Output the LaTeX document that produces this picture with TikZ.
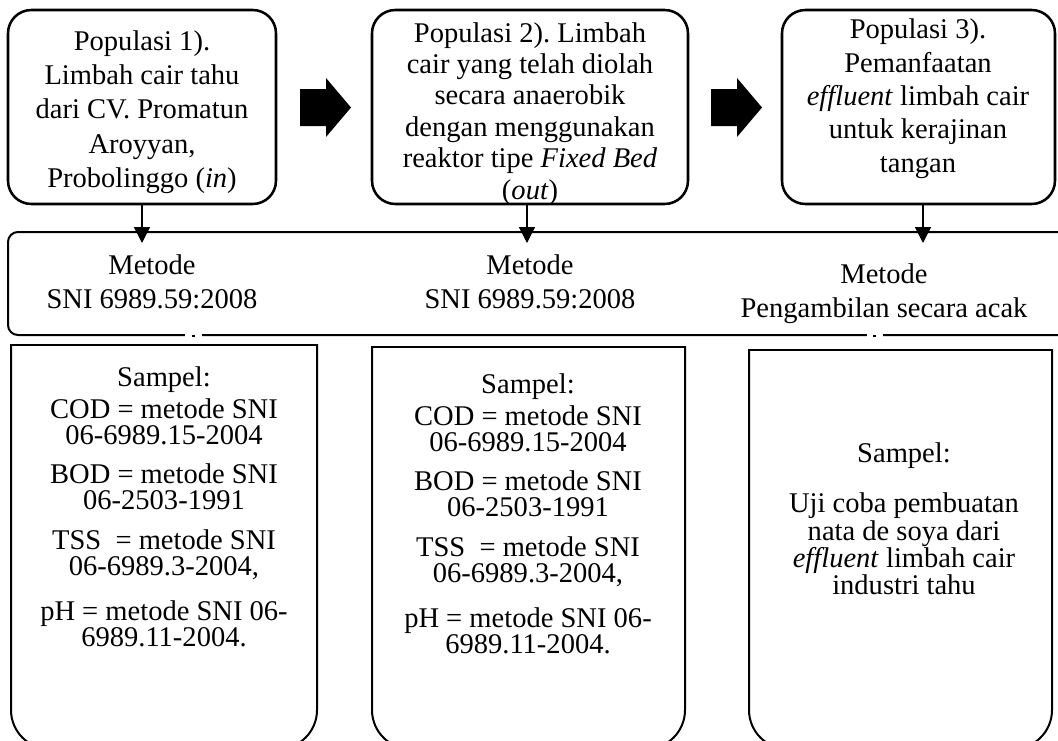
\documentclass[tikz,border=0pt]{standalone}
\usepackage{fontspec}
\setmainfont{Liberation Serif}
\usetikzlibrary{arrows.meta,calc}
\lineskiplimit=-50pt
\frenchspacing
\begin{document}
\begin{tikzpicture}[x=0.75pt,y=-0.75pt,
  every node/.style={inner sep=0pt,outer sep=0pt},
  topbox/.style={draw,line width=1.9pt,rounded corners=17.5pt},
  midbox/.style={draw,line width=1.5pt,rounded corners=7.5pt},
  sampbox/.style={draw,line width=1.5pt,line cap=rect},
  txt/.style={align=center,anchor=north},
  conn/.style={line width=1.2pt,-{Triangle[length=12pt,width=12pt]}},
  blockarrow/.style={fill=black}]
\useasboundingbox (0,0) rectangle (1058,740);
\fill[white] (0,0) rectangle (1058,740);
\clip (0,0) rectangle (1058,740);

% population boxes
\node[topbox,minimum width=201pt,minimum height=145.5pt] (b1) at (142,107) {};
\node[topbox,minimum width=237pt,minimum height=145.5pt] (b2) at (530,107) {};
\node[topbox,minimum width=204.75pt,minimum height=145.5pt] (b3) at (918.5,107) {};

\node[txt,font=\fontsize{21.4}{25.8}\selectfont] (t1) at (142,30.3)
  {Populasi 1).\\ Limbah cair tahu\\ dari CV. Promatun\\ Aroyyan,\\ Probolinggo (\textit{in})};
\node[txt,font=\fontsize{21.4}{23.55}\selectfont] (t2) at (530,22.3)
  {Populasi 2). Limbah\\ cair yang telah diolah\\ secara anaerobik\\ dengan menggunakan\\ reaktor tipe \textit{Fixed Bed}\\ (\textit{out})};
\node[txt,font=\fontsize{21.4}{25}\selectfont] (t3) at (918,19)
  {Populasi 3).\\ Pemanfaatan\\ \textit{effluent} limbah cair\\ untuk kerajinan\\ tangan};

% block arrows between the population boxes
\foreach \x in {300,711}
  \fill[blockarrow] (\x,89) -- ++(26,0) -- ++(0,-11) -- ++(25,29.5)
    -- ++(-25,29.5) -- ++(0,-11) -- ++(-26,0) -- cycle;

% method band
\node[midbox,anchor=north west,minimum width=804pt,minimum height=77.25pt] (mid) at (8,232) {};
\node[txt,font=\fontsize{21.4}{25.5}\selectfont] (m1) at (152,254.5) {Metode\\ SNI 6989.59:2008};
\node[txt,font=\fontsize{21.4}{25.5}\selectfont] (m2) at (530,254.5) {Metode\\ SNI 6989.59:2008};
\node[txt,font=\fontsize{21.4}{25.5}\selectfont] (m3) at (884,263.5) {Metode\\ Pengambilan secara acak};
% small breaks in the lower edge of the band
\draw[white,line width=2.5pt] (185,335) -- (202,335);
\draw[line width=1pt] (192,336) -- (195,336);
\draw[white,line width=2.5pt] (867,335) -- (883,335);
\draw[line width=1pt] (873,336) -- (876,336);

% connectors into the band
\coordinate (tipy) at (0,243);
\draw[conn] (b1.south) -- (b1.south |- tipy);
\draw[conn] ($(b2.south)+(-3,0)$) -- ($(b2.south |- tipy)+(-3,0)$);
\draw[conn] ($(b3.south)+(4.5,0)$) -- ($(b3.south |- tipy)+(4.5,0)$);

% sample boxes (square top, rounded bottom)
\foreach \xa/\xb/\yt in {11/317/345, 372/685/347, 749/1052/350}{
  \draw[sampbox,rounded corners=29.25pt] (\xa,\yt) -- (\xa,749) -- (\xb,749) -- (\xb,\yt);
  \draw[sampbox] (\xa,\yt) -- (\xb,\yt);
}

\node[txt,font=\fontsize{21.4}{19.5}\selectfont] (s1) at (164,367)
  {Sampel:\\[4.5pt] COD = metode SNI\\ 06-6989.15-2004\\[9.75pt]
   BOD = metode SNI\\ 06-2503-1991\\[10.5pt]
   TSS~\ = metode SNI\\ 06-6989.3-2004,\\[14.25pt]
   pH = metode SNI 06-\\ 6989.11-2004.};
\node[txt,font=\fontsize{21.4}{19.5}\selectfont] (s2) at (528,374)
  {Sampel:\\[4.5pt] COD = metode SNI\\ 06-6989.15-2004\\[9.75pt]
   BOD = metode SNI\\ 06-2503-1991\\[10.5pt]
   TSS~\ = metode SNI\\ 06-6989.3-2004,\\[14.25pt]
   pH = metode SNI 06-\\ 6989.11-2004.};
\node[txt,font=\fontsize{21.4}{20.5}\selectfont] (s3) at (904,443)
  {Sampel:\\[17pt] Uji coba pembuatan\\ nata de soya dari\\ \textit{effluent} limbah cair\\ industri tahu};
\end{tikzpicture}
\end{document}
